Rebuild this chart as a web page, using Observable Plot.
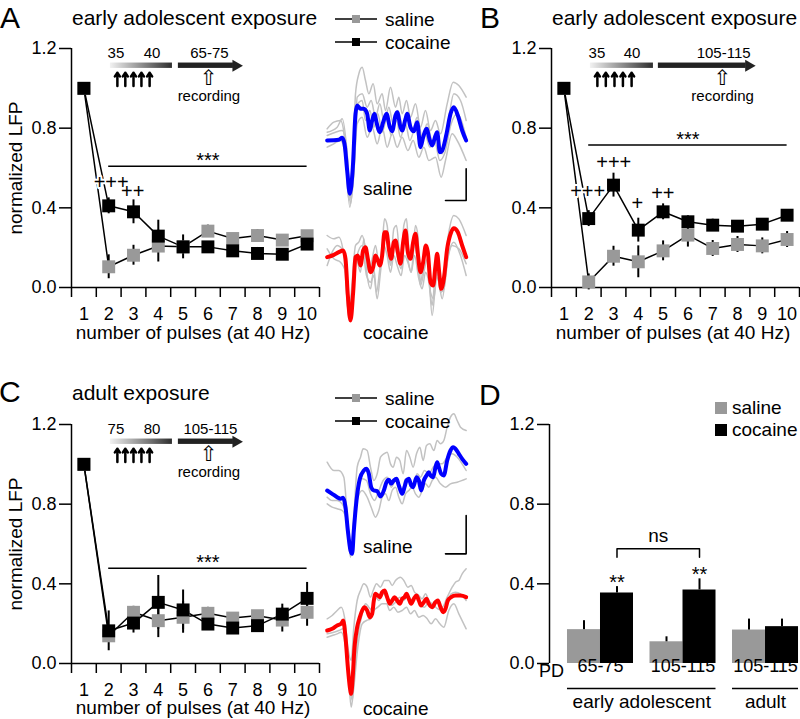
<!DOCTYPE html>
<html><head><meta charset="utf-8">
<script src="https://cdn.jsdelivr.net/npm/d3@7"></script>
<script src="https://cdn.jsdelivr.net/npm/@observablehq/plot@0.6"></script>
<style>
html,body{margin:0;padding:0;background:#fff;}
#fig{position:relative;width:800px;height:719px;overflow:hidden;background:#fff;}
#fig svg{position:absolute;left:0;top:0;}
</style></head><body><div id="fig"></div>
<script>
// ---------------- DATA ----------------
const pulses = [1,2,3,4,5,6,7,8,9,10];
const pulseBounds = [0.5,1.5,2.5,3.5,4.5,5.5,6.5,7.5,8.5,9.5,10.5];
const yTicks = [0, 0.4, 0.8, 1.2];

// Panel A: early adolescent exposure, recorded PD 65-75
const salineA    = [1.0, 0.104, 0.162, 0.208, 0.204, 0.283, 0.246, 0.261, 0.238, 0.26];
const salineASem = [0, 0.06, 0.05, 0.08, 0.03, 0.03, 0.02, 0.03, 0.02, 0.02];
const cocaineA    = [1.0, 0.41, 0.38, 0.258, 0.204, 0.204, 0.184, 0.171, 0.167, 0.218];
const cocaineASem = [0, 0.04, 0.06, 0.08, 0.06, 0.02, 0.02, 0.03, 0.02, 0.02];
const plusA = [{x: 2.1, y: 0.529, s: "+++"}, {x: 2.97, y: 0.484, s: "++"}];
const sigA = {x1: 2, x2: 10, y: 0.609, ty: 0.635, s: "***"};

// Panel B: early adolescent exposure, recorded PD 105-115
const salineB    = [1.0, 0.028, 0.157, 0.129, 0.184, 0.263, 0.196, 0.216, 0.209, 0.241];
const salineBSem = [0, 0.04, 0.05, 0.08, 0.05, 0.06, 0.04, 0.04, 0.04, 0.04];
const cocaineB    = [1.0, 0.346, 0.514, 0.288, 0.38, 0.33, 0.313, 0.308, 0.318, 0.363];
const cocaineBSem = [0, 0.04, 0.06, 0.06, 0.04, 0.03, 0.03, 0.02, 0.02, 0.02];
const plusB = [{x: 1.96, y: 0.484, s: "+++"}, {x: 3.01, y: 0.629, s: "+++"}, {x: 3.96, y: 0.423, s: "+"}, {x: 4.99, y: 0.47, s: "++"}];
const sigB = {x1: 2, x2: 10, y: 0.716, ty: 0.744, s: "***"};

// Panel C: adult exposure, recorded PD 105-115
const salineC    = [1.0, 0.139, 0.257, 0.215, 0.232, 0.252, 0.228, 0.24, 0.218, 0.257];
const salineCSem = [0, 0.03, 0.03, 0.085, 0.08, 0.03, 0.02, 0.02, 0.06, 0.07];
const cocaineC    = [1.0, 0.164, 0.203, 0.307, 0.269, 0.198, 0.178, 0.19, 0.248, 0.327];
const cocaineCSem = [0, 0.1, 0.05, 0.135, 0.1, 0.02, 0.02, 0.02, 0.05, 0.08];
const plusC = [];
const sigC = {x1: 2, x2: 10, y: 0.478, ty: 0.505, s: "***"};

// Timeline insets (treatment days)
const timelineA = {g1: 2.07, g2: 4.57, b1: 4.81, b2: 7.03, arrows: [2.35, 2.67, 3.0, 3.32, 3.65],
  labels: [{x: 2.29, s: "35"}, {x: 3.75, s: "40"}, {x: 6.06, s: "65-75"}], rec: 6.04};
const timelineB = {g1: 2.07, g2: 4.61, b1: 4.81, b2: 8.35, arrows: [2.35, 2.69, 3.04, 3.38, 3.73],
  labels: [{x: 2.33, s: "35"}, {x: 3.75, s: "40"}, {x: 7.44, s: "105-115"}], rec: 7.4};
const timelineC = {g1: 2.07, g2: 4.57, b1: 4.81, b2: 7.03, arrows: [2.35, 2.67, 3.0, 3.32, 3.65],
  labels: [{x: 2.29, s: "75"}, {x: 3.75, s: "80"}, {x: 6.1, s: "105-115"}], rec: 6.04};

// Panel D: bar chart
const groupLabels = ["65-75", "105-115", "105-115"];
const salineD    = [0.170, 0.109, 0.168];
const salineDSem = [0.045, 0.025, 0.055];
const cocaineD    = [0.354, 0.369, 0.185];
const cocaineDSem = [0.032, 0.056, 0.038];
const ageGroups = [{name: "early adolescent", from: 0, to: 1}, {name: "adult", from: 2, to: 2}];
const sigD = [{g: 0, y: 0.405, s: "**"}, {g: 1, y: 0.447, s: "**"}];
const nsD = {g1: 0, g2: 1, lo: 0.534, hi: 0.576, ty: 0.639, s: "ns"};

// Example LFP traces (sample index, inverted amplitude in arbitrary units)
const traceA_salMean = [[20,240],[55,238],[65,232],[72,250],[80,330],[88,400],[97,320],[105,160],[110,135],[120,145],[130,145],[140,160],[148,210],[155,180],[162,160],[168,185],[178,215],[188,185],[198,160],[208,200],[215,212],[225,165],[230,155],[240,200],[245,210],[255,175],[260,160],[270,200],[280,212],[290,185],[300,260],[308,230],[318,205],[328,240],[335,255],[345,225],[350,215],[358,275],[365,270],[378,220],[390,160],[400,140],[412,165],[425,210],[437,240]];
const traceA_sal1 = [[20,205],[40,185],[60,180],[72,230],[85,420],[95,380],[105,100],[115,40],[125,20],[135,60],[145,100],[158,70],[170,130],[185,100],[195,150],[210,80],[225,140],[235,110],[245,160],[258,120],[270,170],[285,130],[300,200],[315,150],[330,210],[345,180],[360,220],[380,130],[398,65],[415,75],[437,110]];
const traceA_sal2 = [[20,260],[40,250],[60,240],[75,290],[88,440],[100,330],[110,190],[125,170],[140,230],[155,200],[170,250],[185,200],[200,260],[215,220],[230,260],[245,230],[262,270],[278,240],[295,290],[310,260],[325,300],[345,290],[362,350],[375,300],[395,220],[410,240],[437,300]];
const traceA_sal3 = [[20,225],[45,215],[65,210],[78,260],[90,410],[102,300],[110,110],[125,100],[140,140],[152,120],[165,170],[178,130],[192,190],[205,140],[218,190],[232,150],[248,200],[262,160],[276,210],[290,170],[305,230],[320,190],[335,240],[350,230],[365,280],[385,170],[400,100],[420,120],[437,180]];
const traceA_sal4 = [[20,215],[50,200],[65,175],[80,280],[90,430],[100,340],[112,130],[125,120],[135,180],[148,150],[160,200],[172,160],[185,215],[200,170],[212,225],[228,180],[240,230],[255,190],[268,240],[285,200],[298,250],[312,215],[328,260],[342,240],[358,300],[372,280],[392,190],[410,160],[437,230]];

const traceA_cocMean = [[20,155],[40,148],[55,140],[68,135],[75,160],[82,270],[90,345],[98,260],[105,155],[112,150],[120,180],[128,135],[135,125],[142,160],[150,200],[158,185],[165,150],[172,165],[178,180],[185,150],[192,80],[198,80],[205,130],[212,160],[220,110],[225,105],[232,140],[240,175],[248,110],[255,75],[262,140],[270,160],[278,110],[285,85],[292,145],[300,200],[308,170],[316,120],[322,140],[330,230],[338,240],[345,180],[350,145],[356,200],[362,250],[370,220],[380,130],[392,80],[400,68],[412,80],[425,120],[437,155]];
const traceA_coc1 = [[20,90],[40,100],[55,95],[70,150],[85,330],[95,230],[105,120],[115,110],[125,90],[135,130],[145,200],[155,160],[165,120],[175,170],[185,120],[192,40],[200,60],[210,170],[220,70],[228,60],[240,170],[250,60],[258,40],[265,130],[275,150],[285,60],[292,90],[300,230],[310,170],[318,120],[325,200],[335,330],[345,230],[352,150],[360,250],[370,200],[385,80],[400,30],[415,40],[437,90]];
const traceA_coc2 = [[20,180],[35,140],[50,120],[70,140],[85,340],[95,250],[105,150],[120,200],[130,100],[140,210],[150,250],[160,190],[168,260],[178,190],[190,100],[200,110],[210,180],[222,120],[232,160],[242,190],[252,100],[262,160],[272,200],[282,120],[292,170],[300,240],[312,190],[320,160],[330,260],[340,280],[350,200],[360,260],[370,250],[385,140],[400,110],[420,150],[437,210]];
const traceA_coc3 = [[20,130],[40,160],[60,170],[75,200],[88,330],[100,220],[110,150],[125,120],[138,210],[150,230],[160,210],[170,280],[180,200],[190,120],[200,150],[210,200],[220,150],[230,180],[242,210],[252,150],[262,170],[272,200],[282,150],[295,220],[305,250],[315,200],[325,230],[335,300],[345,210],[355,230],[365,280],[380,170],[395,120],[415,130],[437,175]];

const traceC_salMean = [[20,300],[35,310],[50,320],[60,325],[68,322],[75,350],[82,420],[90,480],[95,490],[100,420],[108,330],[118,265],[130,240],[138,235],[145,250],[152,290],[160,300],[170,302],[180,318],[190,300],[198,275],[205,268],[212,280],[220,270],[228,265],[235,285],[245,310],[252,290],[258,270],[265,265],[272,285],[278,290],[288,260],[295,270],[302,300],[310,270],[318,255],[325,245],[330,255],[338,260],[345,230],[350,215],[355,230],[362,250],[370,255],[380,210],[390,180],[398,170],[405,175],[415,190],[425,205],[437,220]];
const traceC_sal1 = [[20,215],[40,240],[55,240],[70,260],[82,400],[92,480],[100,380],[110,230],[120,200],[128,175],[140,180],[150,230],[160,270],[170,250],[180,200],[190,190],[200,185],[210,220],[218,230],[228,200],[238,210],[248,250],[258,180],[268,200],[278,230],[288,190],[298,170],[308,210],[318,165],[328,160],[340,180],[350,150],[360,160],[370,150],[380,110],[390,80],[400,70],[410,90],[420,110],[437,120]];
const traceC_sal2 = [[20,340],[35,350],[50,355],[65,360],[78,390],[90,500],[100,400],[110,330],[125,300],[140,320],[152,350],[165,380],[175,360],[185,320],[195,310],[205,330],[215,300],[225,290],[235,320],[245,340],[255,310],[265,300],[275,290],[285,310],[295,320],[305,300],[315,280],[325,290],[335,270],[345,260],[360,280],[375,290],[390,280],[410,275],[437,265]];
const traceC_sal3 = [[20,320],[35,330],[50,330],[65,340],[78,380],[90,490],[100,390],[112,300],[125,265],[138,270],[150,310],[162,330],[175,300],[188,270],[200,260],[212,290],[225,270],[235,285],[245,300],[255,265],[265,270],[278,280],[290,250],[300,260],[312,240],[325,250],[338,230],[350,220],[365,220],[380,200],[395,190],[410,200],[437,240]];

const traceC_cocMean = [[20,210],[35,205],[50,195],[62,190],[68,180],[75,230],[82,320],[88,380],[92,400],[96,360],[102,260],[110,200],[118,170],[125,150],[132,140],[140,150],[148,170],[155,160],[160,120],[165,100],[172,105],[178,110],[185,95],[192,90],[200,110],[208,130],[215,120],[222,110],[230,120],[238,130],[245,115],[252,110],[258,100],[265,115],[272,130],[280,115],[288,105],[295,120],[302,135],[310,125],[318,115],[325,130],[335,140],[345,125],[352,120],[360,140],[368,155],[375,145],[382,120],[392,110],[405,105],[420,105],[437,110]];
const traceC_coc1 = [[20,175],[35,165],[50,150],[62,140],[72,170],[82,260],[92,300],[100,200],[110,120],[120,90],[130,70],[140,80],[150,110],[158,90],[168,70],[180,80],[192,60],[205,60],[215,75],[225,60],[240,50],[250,60],[262,80],[272,75],[282,95],[295,105],[305,115],[315,100],[325,120],[335,130],[345,120],[355,130],[365,140],[380,110],[395,80],[405,65],[415,60],[425,40],[437,25]];
const traceC_coc2 = [[20,230],[35,225],[50,220],[62,215],[75,260],[85,360],[92,440],[100,380],[112,260],[125,190],[138,180],[150,175],[160,150],[172,140],[185,130],[198,130],[208,150],[220,140],[232,155],[245,150],[258,140],[270,160],[282,150],[295,170],[308,165],[320,175],[332,190],[345,175],[358,190],[370,200],[385,150],[400,130],[415,160],[437,205]];
const traceC_coc3 = [[20,220],[40,215],[55,210],[68,205],[78,250],[88,370],[95,420],[102,330],[112,230],[125,160],[135,130],[145,140],[155,150],[165,110],[175,120],[188,100],[200,115],[212,135],[225,125],[238,110],[250,120],[262,105],[275,120],[288,110],[300,135],[312,140],[325,125],[340,135],[352,145],[365,150],[378,135],[392,100],[405,95],[420,100],[437,120]];
const scaleBarA = [[375,420],[437,420],[437,325]];
const scaleBarC = [[375,490],[437,490],[437,375]];

// ---------------- DRAWING ----------------
const FONT = "'Liberation Sans', Arial, Helvetica, sans-serif";
const GRAY = "#999999";
const fig = document.getElementById("fig");
const W = 800, H = 719;

function series(vals, sems) { return pulses.map((p, i) => ({pulse: p, v: vals[i], sem: sems[i]})); }

function linePanel(cfg) {
  const sal = series(cfg.saline, cfg.salineSem);
  const coc = series(cfg.cocaine, cfg.cocaineSem);
  const tl = cfg.timeline;
  const gid = "grad" + cfg.id;
  const defs = () => {
    const d = d3.create("svg:defs");
    const g = d.append("linearGradient").attr("id", gid);
    g.append("stop").attr("offset", "0%").attr("stop-color", "#f2f2f2");
    g.append("stop").attr("offset", "100%").attr("stop-color", "#2e2e2e");
    return d.node();
  };
  const by0 = 1.100, by1 = 1.127;
  return Plot.plot({
    width: W, height: H,
    marginLeft: cfg.left, marginRight: W - cfg.right, marginTop: cfg.top, marginBottom: H - cfg.bottom,
    style: {background: "transparent", fontFamily: FONT, overflow: "visible"},
    x: {domain: [0.5, 10.5]},
    y: {domain: [0, 1.2]},
    marks: [
      defs,
      Plot.ruleX([0.5], {strokeWidth: 1.5}),
      Plot.ruleY([0], {strokeWidth: 1.5}),
      Plot.axisY({ticks: yTicks, tickSize: 12, tickPadding: 3, tickFormat: d3.format(".1f"), fontSize: 18, label: null, strokeWidth: 1.5}),
      Plot.axisX({ticks: pulseBounds, tickSize: 10, tickFormat: () => "", label: null, strokeWidth: 1.5}),
      Plot.axisX({ticks: pulses, tickSize: 0, tickPadding: 20, fontSize: 18, label: null}),
      // timeline inset
      Plot.rect([tl], {x1: "g1", x2: "g2", y1: () => by0, y2: () => by1, fill: `url(#${gid})`}),
      Plot.rect([tl], {x1: "b1", x2: "b2", y1: () => by0, y2: () => by1, fill: "#222"}),
      Plot.dot([tl], {x: d => d.b2 + 0.1, y: () => (by0 + by1) / 2, symbol: "triangle", rotate: 90, r: 4.5, fill: "#222"}),
      Plot.arrow(tl.arrows, {x1: d => d, x2: d => d, y1: () => 1.012, y2: () => 1.078, stroke: "black", strokeWidth: 2.5, headLength: 8, headAngle: 70}),
      Plot.text(tl.labels, {x: "x", y: () => 1.175, text: "s", fontSize: 15}),
      Plot.text([tl], {x: "rec", y: () => 1.05, text: () => "\u21E7", fontSize: 21, fontFamily: "DejaVu Sans", fill: "black"}),
      Plot.text([tl], {x: "rec", y: () => 0.962, text: () => "recording", fontSize: 15}),
      // significance bar
      Plot.ruleY([cfg.sig], {y: "y", x1: "x1", x2: "x2", strokeWidth: 1.5}),
      Plot.text([cfg.sig], {x: d => (d.x1 + d.x2) / 2, y: "ty", text: "s", fontSize: 20}),
      // data
      Plot.line(sal, {x: "pulse", y: "v", stroke: "black", strokeWidth: 1.5}),
      Plot.line(coc, {x: "pulse", y: "v", stroke: "black", strokeWidth: 1.5}),
      Plot.ruleX(sal, {x: "pulse", y1: d => d.v - d.sem, y2: d => d.v + d.sem, strokeWidth: 2}),
      Plot.ruleX(coc, {x: "pulse", y1: d => d.v - d.sem, y2: d => d.v + d.sem, strokeWidth: 2}),
      Plot.text(cfg.plus, {x: "x", y: "y", text: "s", fontSize: 20, stroke: "white", strokeWidth: 4, fill: "black", paintOrder: "stroke"}),
      Plot.dot(sal, {x: "pulse", y: "v", symbol: "square", r: 7.3, fill: GRAY}),
      Plot.dot(coc, {x: "pulse", y: "v", symbol: "square", r: 7.3, fill: "black"})
    ]
  });
}

function tracePanel(cfg) {
  const grays = cfg.grays.flatMap((tr, k) => tr.map(([t, v]) => ({t, v, k})));
  return Plot.plot({
    width: W, height: H,
    marginLeft: cfg.left, marginRight: W - cfg.left - cfg.w, marginTop: cfg.top, marginBottom: H - cfg.top - cfg.h,
    style: {background: "transparent", fontFamily: FONT, overflow: "visible"},
    x: {domain: [0, cfg.w * 3], axis: null},
    y: {domain: [0, cfg.h * 3], reverse: true, axis: null},
    marks: [
      Plot.line(grays, {x: "t", y: "v", z: "k", stroke: "#c2c2c2", strokeWidth: 1.5, curve: "monotone-x"}),
      Plot.line(cfg.mean, {x: d => d[0], y: d => d[1], stroke: cfg.color, strokeWidth: 4, curve: "monotone-x"}),
      cfg.bar ? Plot.line(cfg.bar, {x: d => d[0], y: d => d[1], stroke: "black", strokeWidth: 1.6}) : null
    ]
  });
}

function barPanel() {
  const sal = salineD.map((v, i) => ({g: i, v, sem: salineDSem[i]}));
  const coc = cocaineD.map((v, i) => ({g: i, v, sem: cocaineDSem[i]}));
  const half = 0.4;
  const bracket = [{x: nsD.g1 + 0.2, y: nsD.lo}, {x: nsD.g1 + 0.2, y: nsD.hi}, {x: nsD.g2 + 0.2, y: nsD.hi}, {x: nsD.g2 + 0.2, y: nsD.lo}];
  return Plot.plot({
    width: W, height: H,
    marginLeft: 549, marginRight: 0, marginTop: 424, marginBottom: H - 663,
    style: {background: "transparent", fontFamily: FONT, overflow: "visible"},
    x: {domain: [-0.618, 2.424], axis: null},
    y: {domain: [0, 1.2]},
    marks: [
      Plot.ruleX([-0.618], {strokeWidth: 1.5}),
      Plot.axisY({ticks: yTicks, tickSize: 12, tickPadding: 3, tickFormat: d3.format(".1f"), fontSize: 18, label: null, strokeWidth: 1.5}),
      Plot.rect(sal, {x1: d => d.g - half, x2: d => d.g, y1: () => 0, y2: "v", fill: GRAY}),
      Plot.rect(coc, {x1: d => d.g, x2: d => d.g + half, y1: () => 0, y2: "v", fill: "black"}),
      Plot.ruleX(sal, {x: d => d.g - half / 2, y1: "v", y2: d => d.v + d.sem, strokeWidth: 2}),
      Plot.ruleX(coc, {x: d => d.g + half / 2, y1: "v", y2: d => d.v + d.sem, strokeWidth: 2}),
      Plot.text(sigD, {x: d => d.g + half / 2, y: "y", text: "s", fontSize: 20}),
      Plot.line(bracket, {x: "x", y: "y", strokeWidth: 1.5}),
      Plot.text([nsD], {x: d => (d.g1 + d.g2) / 2 + 0.2, y: "ty", text: "s", fontSize: 19}),
      Plot.text(groupLabels, {x: (d, i) => i, frameAnchor: "bottom", dy: 8, text: d => d, fontSize: 18}),
      Plot.ruleY(ageGroups, {y: () => 0, x1: d => d.from - half, x2: d => d.to + half, dy: 25, strokeWidth: 1.5}),
      Plot.text(ageGroups, {x: d => (d.from + d.to) / 2, frameAnchor: "bottom", dy: 44, text: "name", fontSize: 19})
    ]
  });
}

fig.append(linePanel({id: "A", left: 71, right: 319, top: 48, bottom: 287,
  saline: salineA, salineSem: salineASem, cocaine: cocaineA, cocaineSem: cocaineASem, plus: plusA, sig: sigA, timeline: timelineA}));
fig.append(linePanel({id: "B", left: 551, right: 799, top: 48, bottom: 287,
  saline: salineB, salineSem: salineBSem, cocaine: cocaineB, cocaineSem: cocaineBSem, plus: plusB, sig: sigB, timeline: timelineB}));
fig.append(linePanel({id: "C", left: 71, right: 319, top: 424, bottom: 663,
  saline: salineC, salineSem: salineCSem, cocaine: cocaineC, cocaineSem: cocaineCSem, plus: plusC, sig: sigC, timeline: timelineC}));
fig.append(barPanel());

fig.append(tracePanel({left: 320, top: 60, w: 160, h: 150, grays: [traceA_sal1, traceA_sal2, traceA_sal3, traceA_sal4], mean: traceA_salMean, color: "#0000ff", bar: scaleBarA}));
fig.append(tracePanel({left: 320, top: 205, w: 160, h: 115, grays: [traceA_coc1, traceA_coc2, traceA_coc3], mean: traceA_cocMean, color: "#ff0000"}));
fig.append(tracePanel({left: 320, top: 390, w: 160, h: 170, grays: [traceC_sal1, traceC_sal2, traceC_sal3], mean: traceC_salMean, color: "#0000ff", bar: scaleBarC}));
fig.append(tracePanel({left: 320, top: 560, w: 160, h: 159, grays: [traceC_coc1, traceC_coc2, traceC_coc3], mean: traceC_cocMean, color: "#ff0000"}));

// ---------------- TEXT OVERLAY (letters, titles, labels, legends) ----------------
const ov = d3.select(fig).append("svg").attr("width", W).attr("height", H).style("font-family", FONT);
function T(s, x, y, fs, anchor = "start") {
  return ov.append("text").attr("x", x).attr("y", y).attr("font-size", fs).attr("text-anchor", anchor).attr("fill", "black").text(s);
}
T("A", 0, 28, 30); T("B", 480, 28, 30); T("C", -1, 402, 30); T("D", 479, 405, 30);
T("early adolescent exposure", 72, 25, 21);
T("early adolescent exposure", 552, 25, 21);
T("adult exposure", 72, 400, 21);
T("number of pulses (at 40 Hz)", 193, 339, 19, "middle");
T("number of pulses (at 40 Hz)", 673, 339, 19, "middle");
T("number of pulses (at 40 Hz)", 193, 714, 19, "middle");
ov.append("text").attr("transform", "translate(22,168) rotate(-90)").attr("font-size", 19).attr("text-anchor", "middle").text("normalized LFP");
ov.append("text").attr("transform", "translate(22,544) rotate(-90)").attr("font-size", 19).attr("text-anchor", "middle").text("normalized LFP");
T("saline", 363, 195, 19); T("cocaine", 363, 339, 19);
T("saline", 363, 553, 19); T("cocaine", 363, 715, 19);
T("PD", 539, 677, 18);
// line-chart legends
function lineLegend(y0) {
  [["saline", GRAY, 0], ["cocaine", "black", 23]].forEach(([lab, col, dy]) => {
    const y = y0 + dy;
    ov.append("line").attr("x1", 335).attr("x2", 377).attr("y1", y).attr("y2", y).attr("stroke", "black").attr("stroke-width", 1.5);
    ov.append("rect").attr("x", 352).attr("y", y - 4).attr("width", 8).attr("height", 8).attr("fill", col);
    T(lab, 385, y + 6.5, 19);
  });
}
lineLegend(19); lineLegend(398);
// bar legend
[["saline", GRAY, 402], ["cocaine", "black", 424]].forEach(([lab, col, y]) => {
  ov.append("rect").attr("x", 715).attr("y", y).attr("width", 12).attr("height", 12).attr("fill", col);
  T(lab, 732, y + 12, 19);
});
</script></body></html>
